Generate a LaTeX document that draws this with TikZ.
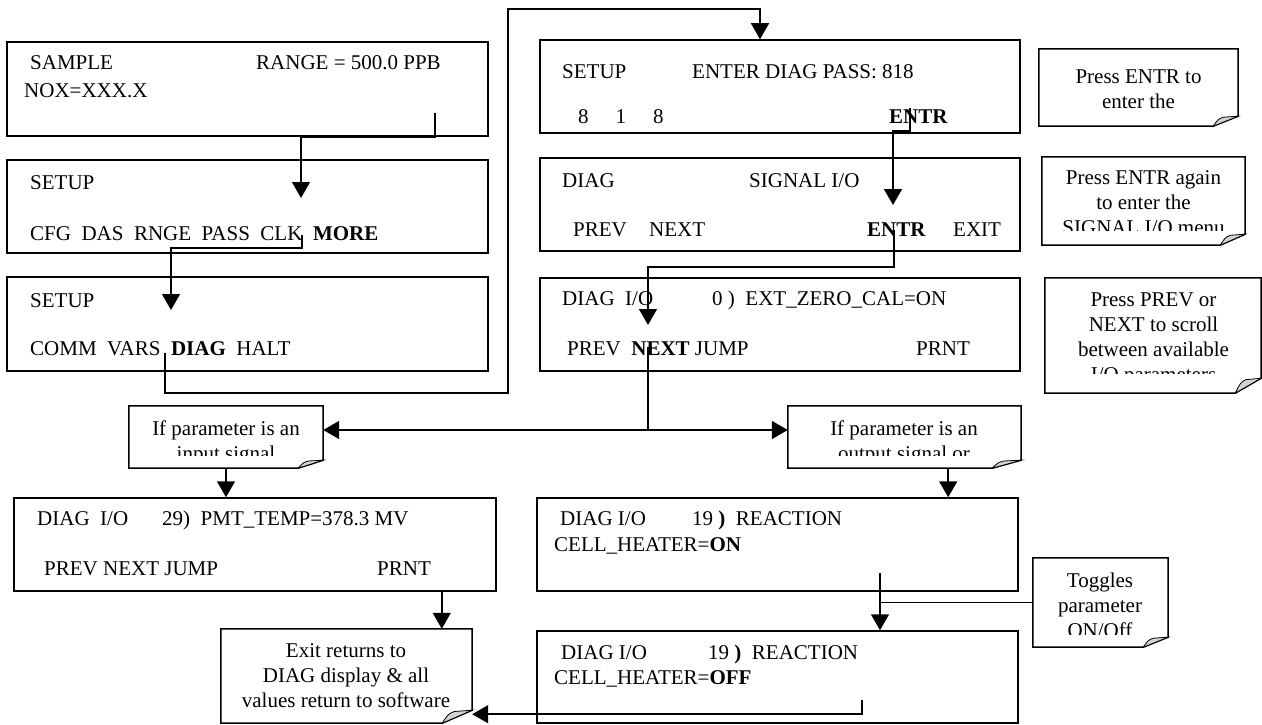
\documentclass[tikz,border=0pt]{standalone}
\usepackage{fontspec}
\setmainfont{Liberation Serif}
\usetikzlibrary{arrows.meta}

% note outline with a curled bottom-right corner
\newcommand{\foldnote}[3]{%
  \draw[notebox] (#1.north west) -- (#1.north east) -- ([yshift=#3pt]#1.south east)
    -- ([xshift=-#2pt]#1.south east) -- (#1.south west) -- cycle;
  \filldraw[curl] ([xshift=-#2pt]#1.south east)
    .. controls ([xshift={-0.8*#2pt},yshift={0.7*#3pt}]#1.south east) .. ([xshift={-0.6*#2pt},yshift={0.9*#3pt}]#1.south east)
    -- ([yshift=#3pt]#1.south east) -- cycle;
}

\begin{document}
\begin{tikzpicture}[x=1pt, y=-1pt,
    screen/.style={draw, line width=1.5pt, inner sep=0pt},
    notearea/.style={inner sep=0pt},
    notebox/.style={line width=1.5pt},
    curl/.style={fill=gray!35, draw=black, line width=0.8pt},
    disp/.style={anchor=base west, inner sep=0pt, font=\fontsize{21}{25}\selectfont},
    notetext/.style={anchor=north, inner sep=0pt, align=center, font=\fontsize{21}{25}\selectfont},
    flow/.style={-{Triangle[length=16pt,width=18pt]}, line width=1.5pt},
    link/.style={line width=1.5pt}]
    \useasboundingbox (0,0) rectangle (1262,725);

    % Left column of displays
    \node[screen, minimum width=481pt, minimum height=94pt] (sample) at (247.5,89) {};
    \node[disp] (tSample) at (30,70) {SAMPLE};
    \node[disp] (tRange) at (256,70) {RANGE = 500.0 PPB};
    \node[disp] (tNox) at (24,97) {NOX=XXX.X};

    \node[screen, minimum width=481pt, minimum height=93pt] (setupMain) at (247.5,206.5) {};
    \node[disp] (tSetupA) at (30,189) {SETUP};
    \node[disp] (tMenuA) at (30,240) {CFG~~DAS~~RNGE~~PASS~~CLK~~\textbf{MORE}};

    \node[screen, minimum width=481pt, minimum height=94pt] (setupMore) at (247.5,324) {};
    \node[disp] (tSetupB) at (30,307) {SETUP};
    \node[disp] (tMenuB) at (30,355) {COMM~~VARS~~\textbf{DIAG}~~HALT};

    % Right column of displays
    \node[screen, minimum width=480pt, minimum height=93pt] (diagPass) at (780,86.5) {};
    \node[disp] (tSetupC) at (562,79) {SETUP};
    \node[disp] (tPass) at (692,79) {ENTER DIAG PASS: 818};
    \node[disp] (tDigits) at (578,124) {8\hspace{27pt}1\hspace{27pt}8};
    \node[disp] (tEntrA) at (889,124) {\textbf{ENTR}};

    \node[screen, minimum width=480pt, minimum height=93pt] (signalIO) at (780,204.5) {};
    \node[disp] (tDiag) at (562,187) {DIAG};
    \node[disp] (tSignal) at (749,187) {SIGNAL I/O};
    \node[disp] (tPrevA) at (573,236) {PREV};
    \node[disp] (tNextA) at (649,236) {NEXT};
    \node[disp] (tEntrB) at (867,236) {\textbf{ENTR}};
    \node[disp] (tExit) at (953,236) {EXIT};

    \node[screen, minimum width=480pt, minimum height=93pt] (extZero) at (780,324.5) {};
    \node[disp] (tDiagIOA) at (562,305) {DIAG~~I/O};
    \node[disp] (tZero) at (712,305) {0 )~~EXT\_ZERO\_CAL=ON};
    \node[disp] (tKeysA) at (567,355) {PREV~~\textbf{NEXT} JUMP};
    \node[disp] (tPrntA) at (916,355) {PRNT};

    % Bottom displays
    \node[screen, minimum width=482pt, minimum height=93pt] (pmtTemp) at (255,544.5) {};
    \node[disp] (tDiagIOB) at (37,525) {DIAG~~I/O};
    \node[disp] (tPmt) at (162,525) {29)~~PMT\_TEMP=378.3 MV};
    \node[disp] (tKeysB) at (44,575) {PREV NEXT JUMP};
    \node[disp] (tPrntB) at (377,575) {PRNT};

    \node[screen, minimum width=481pt, minimum height=93pt] (heaterOn) at (777.5,544.5) {};
    \node[disp] (tDiagIOC) at (560,525) {DIAG I/O};
    \node[disp] (tReactA) at (692,525) {19 \textbf{)}~~REACTION};
    \node[disp] (tCellOn) at (554,551) {CELL\_HEATER=\textbf{ON}};

    \node[screen, minimum width=481pt, minimum height=92pt] (heaterOff) at (777.5,677) {};
    \node[disp] (tDiagIOD) at (561,659) {DIAG I/O};
    \node[disp] (tReactB) at (708,659) {19 \textbf{)}~~REACTION};
    \node[disp] (tCellOff) at (554,684) {CELL\_HEATER=\textbf{OFF}};

    % Notes
    \node[notearea, minimum width=199pt, minimum height=77pt] (nEntr) at (1138.5,87.5) {};
    \foldnote{nEntr}{25}{10}
    \node[notetext] (tEntrNote) at (1138.5,70) {Press ENTR to\\enter the};

    \node[notearea, minimum width=203pt, minimum height=88pt] (nAgain) at (1143.5,201) {};
    \foldnote{nAgain}{25}{11}
    \begin{scope}
        \clip (nAgain.north west) rectangle ([yshift=15pt]nAgain.south east);
        \node[notetext] (tAgainNote) at (1143.5,170) {Press ENTR again\\to enter the\\SIGNAL I/O menu};
    \end{scope}

    \node[notearea, minimum width=216pt, minimum height=115pt] (nScroll) at (1153,335.5) {};
    \foldnote{nScroll}{26}{15}
    \begin{scope}
        \clip (nScroll.north west) rectangle ([yshift=20pt]nScroll.south east);
        \node[notetext] (tScrollNote) at (1153.5,293) {Press PREV or\\NEXT to scroll\\between available\\I/O parameters};
    \end{scope}

    \node[notearea, minimum width=194pt, minimum height=62pt] (nInput) at (226,437) {};
    \foldnote{nInput}{25}{8}
    \begin{scope}
        \clip (nInput.north west) rectangle ([yshift=13pt]nInput.south east);
        \node[notetext] (tInputNote) at (226,421) {If parameter is an\\input signal};
    \end{scope}

    \node[notearea, minimum width=233pt, minimum height=62pt] (nOutput) at (904.5,437) {};
    \foldnote{nOutput}{29}{8}
    \begin{scope}
        \clip (nOutput.north west) rectangle ([yshift=13pt]nOutput.south east);
        \node[notetext] (tOutputNote) at (904,421) {If parameter is an\\output signal or};
    \end{scope}

    \node[notearea, minimum width=251pt, minimum height=94pt] (nExit) at (346.5,676) {};
    \foldnote{nExit}{30}{13}
    \node[notetext] (tExitNote) at (346,643) {Exit returns to\\DIAG display \& all\\values return to software};

    \node[notearea, minimum width=135pt, minimum height=89pt] (nToggle) at (1100.5,602.5) {};
    \foldnote{nToggle}{25}{10}
    \begin{scope}
        \clip (nToggle.north west) rectangle ([yshift=13pt]nToggle.south east);
        \node[notetext] (tToggleNote) at (1100,573) {Toggles\\parameter\\ON/Off};
    \end{scope}

    % Key presses
    \coordinate (sA) at (435,113);
    \coordinate (eB) at (301,198);
    \draw[flow] (sA) -- ++(0,24) -| (eB);

    \coordinate (sB) at (302,235);
    \coordinate (eC) at (171,310);
    \draw[flow] (sB) -- ++(0,13) -| (eC);

    \coordinate (sC) at (165,353);
    \coordinate (turnC) at (508,393);
    \coordinate (topC) at (508,9);
    \draw[flow] (sC) |- (turnC) -- (topC) -| ([xshift=-20pt]diagPass.north);

    \coordinate (sD) at (910,108);
    \coordinate (eE) at (893,205);
    \draw[flow] (sD) -- ++(0,23) -| (eE);

    \coordinate (sE) at (894,230);
    \coordinate (eF) at (648,325);
    \draw[flow] (sE) -- ++(0,37) -| (eF);

    % Branch on signal type
    \coordinate (sF) at (648,347);
    \coordinate (jF) at (648,430);
    \draw[link] (sF) -- (jF);
    \draw[flow] (jF) -- (jF -| nInput.east);
    \draw[flow] (jF) -- (jF -| nOutput.west);

    \draw[flow] (nInput.south) -- (nInput.south |- pmtTemp.north);
    \coordinate (sOut) at ([xshift=-73pt]nOutput.south east);
    \draw[flow] (sOut) -- (sOut |- heaterOn.north);

    \coordinate (sG) at ([xshift=-55pt]pmtTemp.south east);
    \draw[flow] (sG) -- (sG |- nExit.north);

    \coordinate (sH) at (880,573);
    \draw[flow] (sH) -- (sH |- heaterOff.north);
    \draw[link] (nToggle.west) -- (nToggle.west -| sH);

    \coordinate (sI) at (862,700);
    \draw[flow] (sI) |- ([yshift=9pt]nExit.south east);
\end{tikzpicture}
\end{document}
